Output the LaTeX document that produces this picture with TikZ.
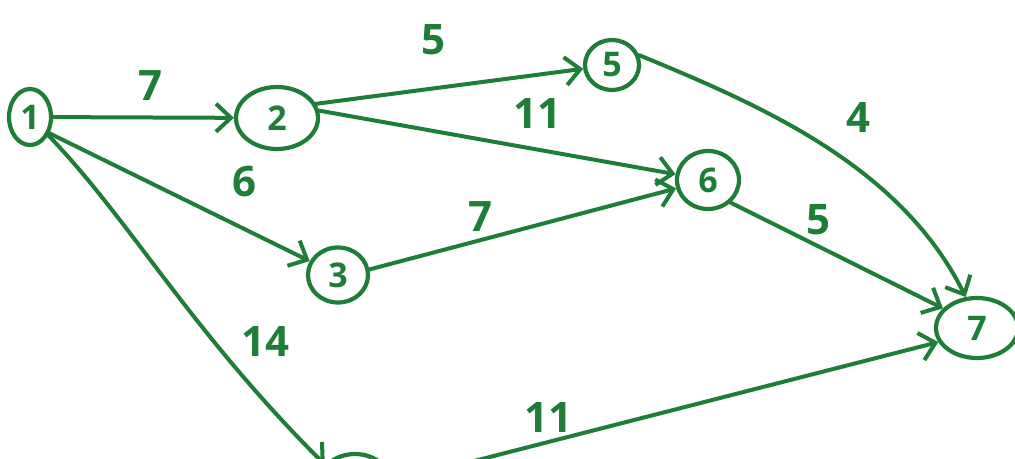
\documentclass[tikz,border=0pt]{standalone}
\usepackage{fontspec}
\setmainfont{Open Sans}
\usetikzlibrary{arrows.meta,shapes.geometric}
\definecolor{ink}{RGB}{30,125,55}
\tikzset{
  vtx/.style={draw=ink, ellipse, line width=4.2pt, inner sep=0pt, text=ink, font=\bfseries\fontsize{34}{34}\selectfont},
  edge/.style={draw=ink, line width=4pt, line cap=round, -{Straight Barb[length=15pt,width=28pt]}},
  wt/.style={text=ink, font=\bfseries\fontsize{42}{42}\selectfont}
}
\begin{document}
\begin{tikzpicture}[x=1pt,y=-1pt]
\useasboundingbox (0,0) rectangle (1015,458);
\clip (0,0) rectangle (1015,458);
\node[vtx, minimum width=42pt, minimum height=56pt] (n1) at (30,117) {1};
\node[vtx, minimum width=82pt, minimum height=62pt] (n2) at (277,118) {2};
\node[vtx, minimum width=54pt, minimum height=50pt] (n5) at (612,65) {5};
\node[vtx, minimum width=62pt, minimum height=58pt] (n6) at (708,180) {6};
\node[vtx, minimum width=60pt, minimum height=55pt] (n3) at (338,275) {3};
\node[vtx, minimum width=82pt, minimum height=60pt] (n7) at (977,328) {7};
\node[vtx, minimum width=70pt, minimum height=56pt] (n4) at (355,482) {};

\draw[edge] (n1) -- (n2);
\draw[edge] (n2.20) -- (n5);
\draw[edge] (n2.10) -- (n6);
\draw[edge] (n1.-40) -- (n3);
\draw[edge] (n3.10) -- (n6);
\draw[edge] (n5.20) .. controls (760,105) and (900,165) .. (n7.110);
\draw[edge] (n6.-45) -- (n7.150);
\draw[edge] (n1.-45) .. controls (130,220) and (190,330) .. (n4.150);
\draw[edge] (n4.east) -- (n7.200);

\node[wt] (w12) at (150,86) {7};
\node[wt] (w25) at (433,40) {5};
\node[wt] (w26) at (537,114) {11};
\node[wt] (w13) at (244,182) {6};
\node[wt] (w36) at (480,217) {7};
\node[wt] (w57) at (858,118) {4};
\node[wt] (w67) at (818,220) {5};
\node[wt] (w14) at (265,342) {14};
\node[wt] (w47) at (548,418) {11};
\end{tikzpicture}
\end{document}
